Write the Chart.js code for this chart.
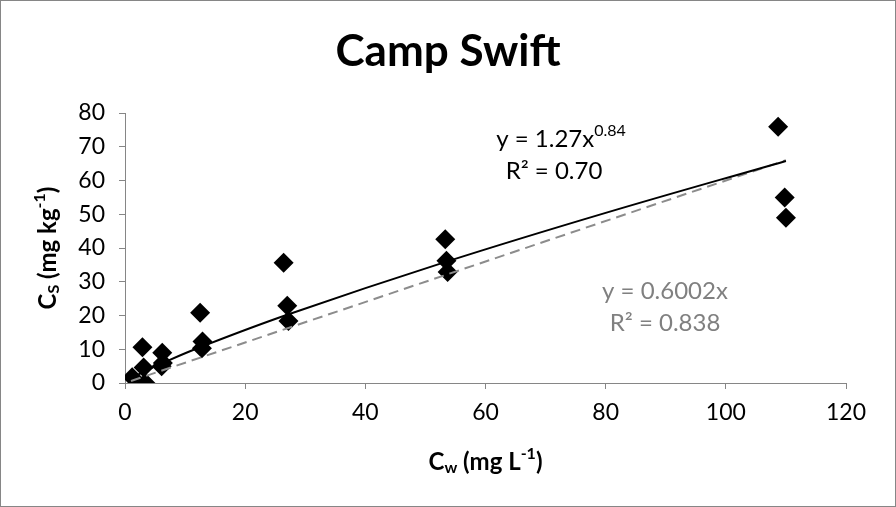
<!DOCTYPE html>
<html>
<head>
<meta charset="utf-8">
<script src="https://cdn.jsdelivr.net/npm/chart.js@4.4.1/dist/chart.umd.min.js"></script>
<style>
  html, body { margin: 0; padding: 0; background: #fff; }
  canvas { display: block; }
</style>
</head>
<body>
<canvas id="chart" width="896" height="507"></canvas>
<script>
// measured points, Cw (mg/L) vs Cs (mg/kg)
const cwValues = [1.2, 3.4, 2.9, 3.1, 6.2, 6.3, 6.1, 12.5, 12.9, 12.8, 26.4, 27.0, 27.2, 53.3, 53.5, 53.7, 108.7, 109.8, 110.0];
const csValues = [1.7, 0.0, 10.6, 4.6, 9.0, 5.9, 5.0, 20.8, 12.3, 10.3, 35.6, 22.9, 18.4, 42.6, 36.2, 32.9, 75.9, 55.0, 49.0];

// trend lines
const powerFitX = [1, 3, 6, 13, 27, 53, 80, 110];
const powerFitY = [1.27, 3.2, 5.72, 10.95, 20.23, 35.66, 50.4, 65.8];
const linearFitX = [1, 110];
const linearFitY = [0.6, 66.0];

const xTicks = [0, 20, 40, 60, 80, 100, 120];
const yTicks = [0, 10, 20, 30, 40, 50, 60, 70, 80];

const chartTitle = "Camp Swift";
const powerEq = ["y = 1.27x", "0.84"];
const powerR2 = "R² = 0.70";
const linearEq = "y = 0.6002x";
const linearR2 = "R² = 0.838";

const FONT = "Lato, 'Open Sans', sans-serif";
const axisGray = "#868686";

function pts(xs, ys) {
  return xs.map((x, i) => ({ x: x, y: ys[i] }));
}

// draws the text parts chart.js can't do (sub/superscripts)
const extras = {
  id: "extras",
  beforeDraw(chart) {
    const c = chart.ctx;
    c.save();
    c.fillStyle = "#fff";
    c.fillRect(0, 0, chart.width, chart.height);
    c.restore();
  },
  afterDraw(chart) {
    const c = chart.ctx;
    const a = chart.chartArea;
    c.save();

    // title
    c.fillStyle = "#000";
    c.font = "bold 44px " + FONT;
    c.textAlign = "center";
    c.textBaseline = "middle";
    c.fillText(chartTitle, 448, 52);

    // x axis title: Cw (mg L-1)
    const cx = (a.left + a.right) / 2;
    drawRuns(c, [
      { t: "C", f: "bold 24px " + FONT, dy: 0 },
      { t: "w", f: "bold 16px " + FONT, dy: 6 },
      { t: " (mg L", f: "bold 24px " + FONT, dy: 0 },
      { t: "-1", f: "bold 16px " + FONT, dy: -8 },
      { t: ")", f: "bold 24px " + FONT, dy: 0 }
    ], cx, 462, "#000");

    // y axis title rotated
    c.save();
    c.translate(48, (a.top + a.bottom) / 2);
    c.rotate(-Math.PI / 2);
    drawRuns(c, [
      { t: "C", f: "bold 24px " + FONT, dy: 0 },
      { t: "S", f: "bold 16px " + FONT, dy: 6 },
      { t: " (mg kg", f: "bold 24px " + FONT, dy: 0 },
      { t: "-1", f: "bold 16px " + FONT, dy: -8 },
      { t: ")", f: "bold 24px " + FONT, dy: 0 }
    ], 0, 0, "#000");
    c.restore();

    // power fit label
    drawRuns(c, [
      { t: powerEq[0], f: "24px " + FONT, dy: 0 },
      { t: powerEq[1], f: "16px " + FONT, dy: -8 }
    ], 561, 139, "#000");
    drawRuns(c, [{ t: powerR2, f: "24px " + FONT, dy: 0 }], 554, 171, "#000");

    // linear fit label
    drawRuns(c, [{ t: linearEq, f: "24px " + FONT, dy: 0 }], 665, 291, "#808080");
    drawRuns(c, [{ t: linearR2, f: "24px " + FONT, dy: 0 }], 665, 323, "#808080");

    // outer border
    c.strokeStyle = axisGray;
    c.lineWidth = 1;
    c.strokeRect(0.5, 0.5, chart.width - 1, chart.height - 1);
    c.restore();
  }
};

function drawRuns(c, runs, cx, cy, color) {
  let total = 0;
  runs.forEach(r => { c.font = r.f; r.w = c.measureText(r.t).width; total += r.w; });
  let x = cx - total / 2;
  c.fillStyle = color;
  c.textAlign = "left";
  c.textBaseline = "middle";
  runs.forEach(r => {
    c.font = r.f;
    c.fillText(r.t, x, cy + r.dy);
    x += r.w;
  });
}

new Chart(document.getElementById("chart"), {
  type: "scatter",
  data: {
    datasets: [
      {
        label: "power fit",
        data: pts(powerFitX, powerFitY),
        showLine: true,
        borderColor: "#000",
        borderWidth: 2,
        pointRadius: 0,
        tension: 0.4
      },
      {
        label: "linear fit",
        data: pts(linearFitX, linearFitY),
        showLine: true,
        borderColor: "#8c8c8c",
        borderWidth: 2,
        borderDash: [10, 6],
        pointRadius: 0
      },
      {
        label: "Camp Swift",
        data: pts(cwValues, csValues),
        pointStyle: "rectRot",
        pointRadius: 10,
        pointHoverRadius: 10,
        backgroundColor: "#000",
        borderColor: "#000",
        borderWidth: 0
      }
    ]
  },
  options: {
    responsive: false,
    animation: false,
    events: [],
    layout: { padding: { left: 0, right: 50, top: 113, bottom: 0 } },
    plugins: {
      legend: { display: false },
      tooltip: { enabled: false }
    },
    scales: {
      x: {
        type: "linear",
        min: 0,
        max: 120,
        afterBuildTicks: s => { s.ticks = xTicks.map(v => ({ value: v })); },
        afterFit: s => { s.height = 124; },
        grid: { display: true, drawOnChartArea: false, drawTicks: true, tickLength: 6, color: axisGray },
        border: { display: true, color: axisGray, width: 1 },
        ticks: { color: "#000", font: { family: FONT, size: 23 }, padding: 10, maxRotation: 0 }
      },
      y: {
        type: "linear",
        min: 0,
        max: 80,
        afterBuildTicks: s => { s.ticks = yTicks.map(v => ({ value: v })); },
        afterFit: s => { s.width = 125; },
        grid: { display: true, drawOnChartArea: false, drawTicks: true, tickLength: 6, color: axisGray },
        border: { display: true, color: axisGray, width: 1 },
        ticks: { color: "#000", font: { family: FONT, size: 23 }, padding: 14 }
      }
    }
  },
  plugins: [extras]
});
</script>
</body>
</html>
